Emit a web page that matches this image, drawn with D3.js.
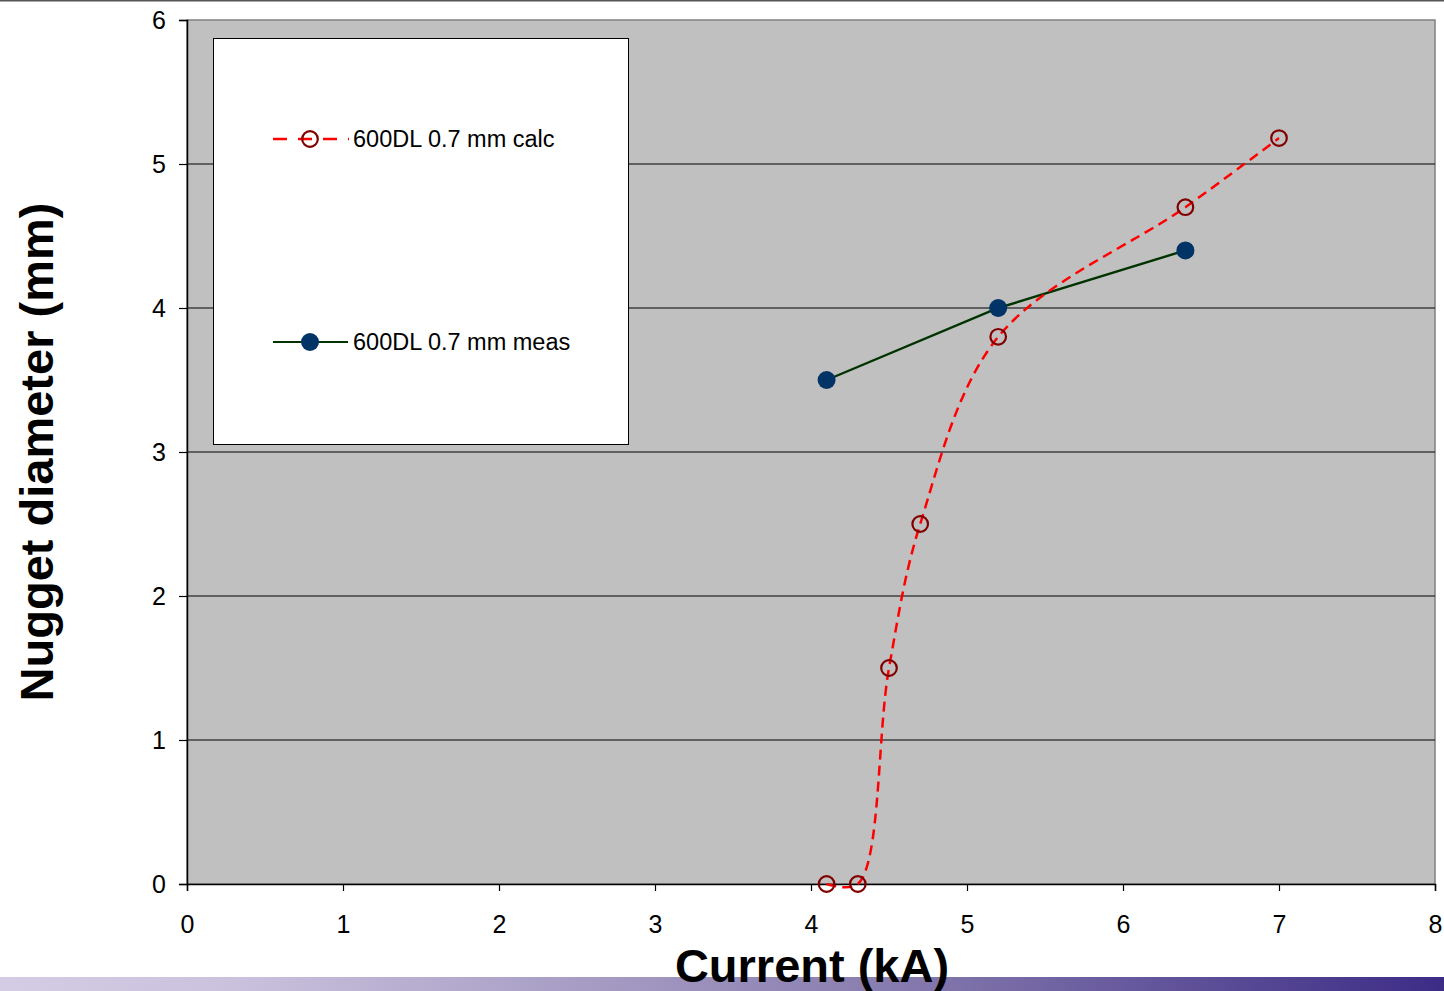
<!DOCTYPE html>
<html><head><meta charset="utf-8">
<script src="https://cdn.jsdelivr.net/npm/d3@7"></script>
<style>html,body{margin:0;padding:0;background:#fff;}svg{display:block;font-family:"Liberation Sans",Arial,sans-serif;}</style>
</head><body>
<script>
const calcX = [4.1, 4.3, 4.5, 4.7, 5.2, 6.4, 7.0];
const calcY = [0, 0, 1.5, 2.5, 3.8, 4.7, 5.18];
const measX = [4.1, 5.2, 6.4];
const measY = [3.5, 4.0, 4.4];
const xTicks = [0,1,2,3,4,5,6,7,8];
const yTicks = [0,1,2,3,4,5,6];
const seriesNames = ["600DL 0.7 mm calc", "600DL 0.7 mm meas"];
const xTitle = "Current (kA)";
const yTitle = "Nugget diameter (mm)";

const W = 1444, H = 991;
const svg = d3.select("body").append("svg").attr("width", W).attr("height", H);
const L = 187, R = 1435, T = 20, B = 884;
const x = d3.scaleLinear().domain([0, 8]).range([L, R]);
const y = d3.scaleLinear().domain([0, 6]).range([B, T]);

// gradient bar bottom
const defs = svg.append("defs");
const g = defs.append("linearGradient").attr("id", "bar").attr("x1", "0").attr("x2", "1");
g.append("stop").attr("offset", "0").attr("stop-color", "#d4cce4");
g.append("stop").attr("offset", "0.15").attr("stop-color", "#cbc3de");
g.append("stop").attr("offset", "0.6").attr("stop-color", "#8a7fb0");
g.append("stop").attr("offset", "1").attr("stop-color", "#3d2c86");
svg.append("rect").attr("x", 0).attr("y", 977).attr("width", W).attr("height", 14).attr("fill", "url(#bar)");

// top line
svg.append("rect").attr("x", 0).attr("y", 0).attr("width", W).attr("height", 1.5).attr("fill", "#555");

// plot area
svg.append("rect").attr("x", L).attr("y", T).attr("width", R - L).attr("height", B - T)
  .attr("fill", "#c0c0c0").attr("stroke", "#808080").attr("stroke-width", 1.5);

// gridlines
svg.append("g").selectAll("line").data(yTicks.filter(d => d > 0 && d < 6)).join("line")
  .attr("x1", L).attr("x2", R).attr("y1", d => y(d)).attr("y2", d => y(d))
  .attr("stroke", "#000").attr("stroke-width", 1);

// axes
const yAxis = svg.append("g").attr("transform", `translate(${L},0)`)
  .call(d3.axisLeft(y).tickValues(yTicks).tickSize(8).tickPadding(13).tickFormat(d3.format("d")));
const xAxis = svg.append("g").attr("transform", `translate(0,${B})`)
  .call(d3.axisBottom(x).tickValues(xTicks).tickSize(7).tickPadding(33).tickFormat(d3.format("d")));
[yAxis, xAxis].forEach(a => {
  a.select(".domain").attr("stroke", "#000").attr("stroke-width", 1.5);
  a.selectAll(".tick line").attr("stroke", "#000").attr("stroke-width", 1.2);
  a.selectAll("text").attr("font-size", 25).attr("fill", "#000").attr("font-family", "Liberation Sans, Arial, sans-serif");
});
xAxis.selectAll("text").attr("dy", "0.35em");

// series
const calcData = calcX.map((d, i) => [d, calcY[i]]);
const measData = measX.map((d, i) => [d, measY[i]]);
const lineSmooth = d3.line().x(d => x(d[0])).y(d => y(d[1])).curve(d3.curveCatmullRom.alpha(0.5));
const lineStraight = d3.line().x(d => x(d[0])).y(d => y(d[1]));

svg.append("path").datum(measData).attr("d", lineStraight).attr("fill", "none")
  .attr("stroke", "#003300").attr("stroke-width", 2.4);
svg.append("path").datum(calcData).attr("d", lineSmooth).attr("fill", "none")
  .attr("stroke", "#ff0000").attr("stroke-width", 2.5).attr("stroke-dasharray", "10,6");
svg.append("g").selectAll("circle").data(calcData).join("circle")
  .attr("cx", d => x(d[0])).attr("cy", d => y(d[1])).attr("r", 7.8)
  .attr("fill", "none").attr("stroke", "#800000").attr("stroke-width", 2.2);
svg.append("g").selectAll("circle").data(measData).join("circle")
  .attr("cx", d => x(d[0])).attr("cy", d => y(d[1])).attr("r", 9)
  .attr("fill", "#003366");

// legend
const lg = svg.append("g");
lg.append("rect").attr("x", 213.5).attr("y", 38.5).attr("width", 415).attr("height", 406)
  .attr("fill", "#fff").attr("stroke", "#000").attr("stroke-width", 1);
const ly1 = 139, ly2 = 342;
lg.append("line").attr("x1", 273).attr("x2", 349).attr("y1", ly1).attr("y2", ly1)
  .attr("stroke", "#ff0000").attr("stroke-width", 2.5).attr("stroke-dasharray", "14,11");
lg.append("circle").attr("cx", 310).attr("cy", ly1).attr("r", 7.8).attr("fill", "none")
  .attr("stroke", "#800000").attr("stroke-width", 2.2);
lg.append("line").attr("x1", 273).attr("x2", 348).attr("y1", ly2).attr("y2", ly2)
  .attr("stroke", "#003300").attr("stroke-width", 2);
lg.append("circle").attr("cx", 310).attr("cy", ly2).attr("r", 9).attr("fill", "#003366");
lg.selectAll("text.leg").data(seriesNames).join("text").attr("class", "leg")
  .attr("x", 353).attr("y", (d, i) => i === 0 ? ly1 : ly2).attr("dy", "0.35em")
  .attr("font-size", 23.5).attr("fill", "#000").text(d => d);

// titles
svg.append("text").attr("x", 812).attr("y", 982).attr("text-anchor", "middle")
  .attr("font-size", 47).attr("font-weight", "bold").attr("fill", "#000").text(xTitle);
svg.append("text").attr("transform", "translate(53,452) rotate(-90)").attr("text-anchor", "middle")
  .attr("font-size", 47).attr("font-weight", "bold").attr("fill", "#000").text(yTitle);
</script>
</body></html>
